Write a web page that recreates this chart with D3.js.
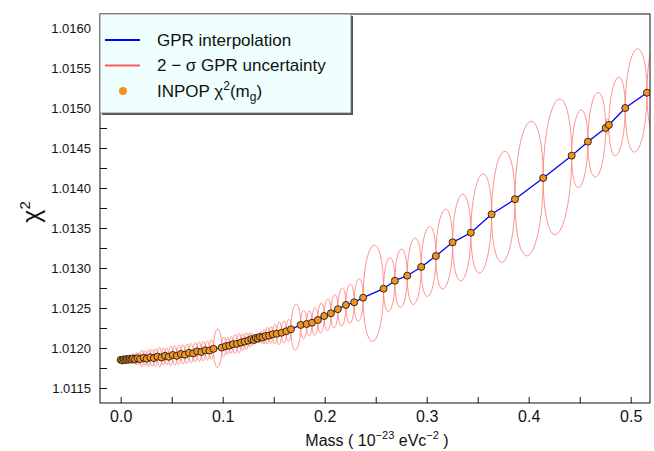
<!DOCTYPE html>
<html>
<head>
<meta charset="utf-8">
<script src="https://cdnjs.cloudflare.com/ajax/libs/d3/7.8.5/d3.min.js"></script>
<style>
  body { margin: 0; background: #fff; }
  text { font-family: "Liberation Sans", Arial, sans-serif; fill: #111; }
</style>
</head>
<body>
<div id="container"></div>
<script>
// INPOP runs: graviton mass (1e-23 eV/c^2) and chi^2
var mass = [
  0.0000, 0.0015, 0.0030, 0.0045, 0.0060, 0.0075, 0.0090, 0.0105, 0.0120, 0.0140,
  0.0165, 0.0190, 0.0225, 0.0255, 0.0290, 0.0325, 0.0360, 0.0400, 0.0435, 0.0470,
  0.0510, 0.0550, 0.0590, 0.0630, 0.0670, 0.0710, 0.0750, 0.0790, 0.0830, 0.0870,
  0.0910, 0.0990, 0.1030, 0.1065, 0.1100, 0.1140, 0.1180, 0.1215, 0.1250, 0.1280,
  0.1305, 0.1325, 0.1345, 0.1365, 0.1390, 0.1420, 0.1455, 0.1490, 0.1530,
  0.1577, 0.1623, 0.1669, 0.1764, 0.1823, 0.1875, 0.1933, 0.1995, 0.2061, 0.2129,
  0.2208, 0.2289, 0.2377, 0.2577, 0.2688, 0.2809, 0.2946, 0.3090, 0.3254, 0.3433,
  0.3636, 0.3865, 0.4142, 0.4421, 0.4580, 0.4754, 0.4786, 0.4946, 0.5159
];
var chi2 = [
  1.011852, 1.011845, 1.011858, 1.011849, 1.011862, 1.011853, 1.011866, 1.011855, 1.011870, 1.011858,
  1.011872, 1.011862, 1.011878, 1.011866, 1.011884, 1.011874, 1.011893, 1.011882, 1.011902, 1.011890,
  1.011913, 1.011902, 1.011925, 1.011916, 1.011940, 1.011932, 1.011958, 1.011950, 1.011972, 1.011968,
  1.011990, 1.012005, 1.012022, 1.012030, 1.012048, 1.012052, 1.012068, 1.012080, 1.012092, 1.012110,
  1.012100, 1.012125, 1.012118, 1.012138, 1.012132, 1.012150, 1.012155, 1.012172, 1.012178,
  1.012191, 1.012209, 1.012234, 1.012288, 1.012300, 1.012316, 1.012350, 1.012400, 1.012434, 1.012485,
  1.012538, 1.012571, 1.012629, 1.012741, 1.012841, 1.012904, 1.013013, 1.013150, 1.013321, 1.013441,
  1.013671, 1.013860, 1.014125, 1.014404, 1.014579, 1.014750, 1.014788, 1.015000, 1.015191
];

var xMajor = [0, 0.1, 0.2, 0.3, 0.4, 0.5];
var xMinor = [0.05, 0.15, 0.25, 0.35, 0.45];
var yMajor = [1.0115, 1.0120, 1.0125, 1.0130, 1.0135, 1.0140, 1.0145, 1.0150, 1.0155, 1.0160];
var yMinor = [1.01175, 1.01225, 1.01275, 1.01325, 1.01375, 1.01425, 1.01475, 1.01525, 1.01575];

// 2-sigma half width per unit of spacing between neighbouring runs
var bandScale = 0.06;

var width = 654, height = 451;
var plotLeft = 100, plotRight = 650, plotTop = 14, plotBottom = 403;

var svg = d3.select("#container").append("svg")
    .attr("width", width)
    .attr("height", height);

var x = d3.scaleLinear().domain([-0.0203, 0.5189]).range([plotLeft, plotRight]);
var y = d3.scaleLinear().domain([1.0113125, 1.016175]).range([plotBottom, plotTop]);

svg.append("clipPath").attr("id", "plot-clip")
  .append("rect")
    .attr("x", plotLeft).attr("y", plotTop)
    .attr("width", plotRight - plotLeft).attr("height", plotBottom - plotTop);

var pts = mass.map(function(m, i) { return {m: m, c: chi2[i]}; });

// uncertainty band: zero at each run, opening up in the gaps
var upper = [], lower = [];
pts.forEach(function(p, i) {
  var q = pts[i + 1];
  var prev = pts[i - 1];
  var g = q ? q.m - p.m : p.m - prev.m;
  var slope = q ? (q.c - p.c) / g : (p.c - prev.c) / g;
  var steps = 24;
  for (var s = 0; s <= steps; s++) {
    var th = Math.PI * s / steps;
    var t = (1 - Math.cos(th)) / 2;
    var mm = p.m + t * g;
    var c = p.c + slope * t * g;
    var h = bandScale * g * Math.sin(th) / 2;
    upper.push([mm, c + h]);
    lower.push([mm, c - h]);
  }
});

var line = d3.line()
    .x(function(d) { return x(d[0]); })
    .y(function(d) { return y(d[1]); });

var plot = svg.append("g").attr("clip-path", "url(#plot-clip)");

[upper, lower].forEach(function(b) {
  plot.append("path")
      .attr("d", line(b))
      .attr("fill", "none")
      .attr("stroke", "#ff8585")
      .attr("stroke-width", 0.9);
});

plot.append("path")
    .attr("d", line(pts.map(function(p) { return [p.m, p.c]; })))
    .attr("fill", "none")
    .attr("stroke", "#0000ff")
    .attr("stroke-width", 1.3);

plot.selectAll("circle.run")
  .data(pts)
  .enter().append("circle")
    .attr("class", "run")
    .attr("cx", function(d) { return x(d.m); })
    .attr("cy", function(d) { return y(d.c); })
    .attr("r", 3.5)
    .attr("fill", "#f5921e")
    .attr("stroke", "#1a1a1a")
    .attr("stroke-width", 0.9);

// axes, ticks pointing inwards
var xAxis = svg.append("g")
    .attr("transform", "translate(0," + plotBottom + ")")
    .call(d3.axisBottom(x).tickValues(xMajor).tickSize(-6).tickPadding(8)
      .tickFormat(d3.format(".1f")));
svg.append("g")
    .attr("transform", "translate(0," + plotBottom + ")")
    .call(d3.axisBottom(x).tickValues(xMinor).tickSize(-6).tickFormat(""));

var yAxis = svg.append("g")
    .attr("transform", "translate(" + plotLeft + ",0)")
    .call(d3.axisLeft(y).tickValues(yMajor).tickSize(-7).tickPadding(9)
      .tickFormat(d3.format(".4f")));
svg.append("g")
    .attr("transform", "translate(" + plotLeft + ",0)")
    .call(d3.axisLeft(y).tickValues(yMinor).tickSize(-7).tickFormat(""));

svg.selectAll(".domain").remove();
svg.selectAll(".tick line").attr("stroke", "#111");
xAxis.attr("font-size", null);
xAxis.selectAll("text").style("font-size", "16px").attr("fill", "#111");
yAxis.selectAll("text").style("font-size", "13px").attr("fill", "#111");

svg.append("rect")
    .attr("x", plotLeft).attr("y", plotTop)
    .attr("width", plotRight - plotLeft).attr("height", plotBottom - plotTop)
    .attr("fill", "none")
    .attr("stroke", "#111")
    .attr("stroke-width", 1);

// axis titles
var xt = svg.append("text")
    .attr("x", 377).attr("y", 446)
    .attr("text-anchor", "middle")
    .style("font-size", "16px");
xt.append("tspan").text("Mass ( 10");
xt.append("tspan").attr("dy", -7).style("font-size", "11px").text("\u221223");
xt.append("tspan").attr("dy", 7).text(" eVc");
xt.append("tspan").attr("dy", -7).style("font-size", "11px").text("\u22122");
xt.append("tspan").attr("dy", 7).text(" )");

var yt = svg.append("text")
    .attr("transform", "translate(40,212) rotate(-90)")
    .attr("text-anchor", "middle")
    .style("font-size", "25px");
yt.append("tspan").text("\u03c7");
yt.append("tspan").attr("dy", -10).style("font-size", "15px").text("2");

// legend
var lg = svg.append("g");
lg.append("rect")
    .attr("x", plotLeft + 2).attr("y", plotTop + 2)
    .attr("width", 251).attr("height", 99)
    .attr("fill", "#555");
lg.append("rect")
    .attr("x", plotLeft).attr("y", plotTop)
    .attr("width", 251).attr("height", 99)
    .attr("fill", "#effffe")
    .attr("stroke", "#777")
    .attr("stroke-width", 0.8);

lg.append("line")
    .attr("x1", 105).attr("x2", 140).attr("y1", 40).attr("y2", 40)
    .attr("stroke", "#0000ff").attr("stroke-width", 2);
lg.append("line")
    .attr("x1", 105).attr("x2", 140).attr("y1", 65.5).attr("y2", 65.5)
    .attr("stroke", "#ff5a5a").attr("stroke-width", 2);
lg.append("circle")
    .attr("cx", 123).attr("cy", 91).attr("r", 4)
    .attr("fill", "#f5921e");

lg.append("text").attr("x", 157).attr("y", 45.5)
    .style("font-size", "17px").text("GPR interpolation");
lg.append("text").attr("x", 157).attr("y", 70.5)
    .style("font-size", "17px").text("2 \u2212 \u03c3 GPR uncertainty");
var l3 = lg.append("text").attr("x", 157).attr("y", 96.5)
    .style("font-size", "17px");
l3.append("tspan").text("INPOP \u03c7");
l3.append("tspan").attr("dy", -7).style("font-size", "12px").text("2");
l3.append("tspan").attr("dy", 7).text("(m");
l3.append("tspan").attr("dy", 4).style("font-size", "12px").text("g");
l3.append("tspan").attr("dy", -4).text(")");
</script>
</body>
</html>
